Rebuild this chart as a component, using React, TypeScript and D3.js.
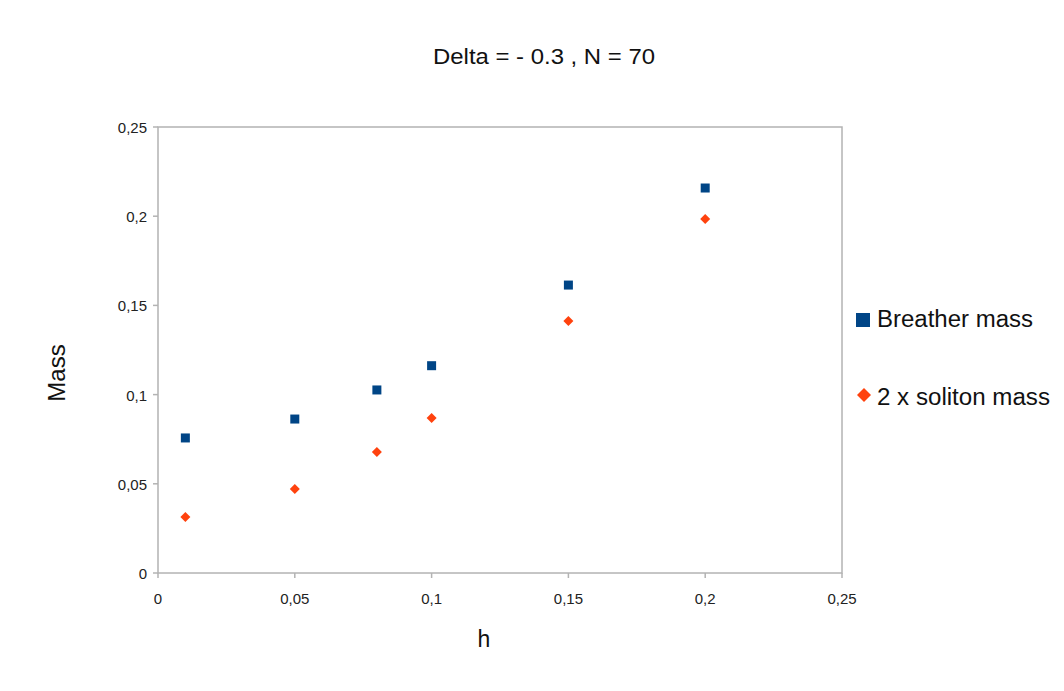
import React from "react";
import * as d3 from "d3";

const hValues = [0.01, 0.05, 0.08, 0.1, 0.15, 0.2];
const breatherMass = [0.0757, 0.0863, 0.1026, 0.1162, 0.1614, 0.2158];
const solitonMass2x = [0.0314, 0.0471, 0.0678, 0.0869, 0.1413, 0.1984];
const xTicks = [0, 0.05, 0.1, 0.15, 0.2, 0.25];
const yTicks = [0, 0.05, 0.1, 0.15, 0.2, 0.25];
const seriesNames = ["Breather mass", "2 x soliton mass"];

const W = 1064, H = 691;
const left = 158, right = 842, top = 127, bottom = 573;
const BLUE = "#004586", ORANGE = "#ff420e";
const fmt = (v: number) => (v === 0 ? "0" : String(+v.toFixed(2)).replace(".", ","));
const font = "'Liberation Sans', Arial, sans-serif";

export default function App() {
  const x = d3.scaleLinear().domain([0, 0.25]).range([left, right]);
  const y = d3.scaleLinear().domain([0, 0.25]).range([bottom, top]);
  const diamond = (cx: number, cy: number, r: number) =>
    `M${cx},${cy - r}L${cx + r},${cy}L${cx},${cy + r}L${cx - r},${cy}Z`;
  return (
    <svg width={W} height={H} style={{ position: "absolute", left: 0, top: 0, background: "#fff" }} fontFamily={font}>
      <rect x={0} y={0} width={W} height={H} fill="#fff" />
      <text x={433} y={64} fontSize={22} fill="#111" textLength={222} lengthAdjust="spacingAndGlyphs">Delta = - 0.3 , N = 70</text>
      <rect x={left} y={top} width={right - left} height={bottom - top} fill="none" stroke="#b3b3b3" strokeWidth={1.5} />
      {yTicks.map((t) => (
        <g key={"y" + t}>
          <line x1={left - 5} x2={left} y1={y(t)} y2={y(t)} stroke="#b3b3b3" strokeWidth={1.5} />
          <text x={left - 11} y={y(t) + 6} textAnchor="end" fontSize={15} fill="#222">{fmt(t)}</text>
        </g>
      ))}
      {xTicks.map((t) => (
        <g key={"x" + t}>
          <line x1={x(t)} x2={x(t)} y1={bottom} y2={bottom + 5} stroke="#b3b3b3" strokeWidth={1.5} />
          <text x={x(t)} y={bottom + 31} textAnchor="middle" fontSize={15} fill="#222">{fmt(t)}</text>
        </g>
      ))}
      <text x={484} y={647} textAnchor="middle" fontSize={23} fill="#111">h</text>
      <text transform={`translate(65,373) rotate(-90)`} textAnchor="middle" fontSize={24} fill="#111">Mass</text>
      {hValues.map((h, i) => (
        <rect key={"b" + i} x={x(h) - 4.5} y={y(breatherMass[i]) - 4.5} width={9} height={9} fill={BLUE} />
      ))}
      {hValues.map((h, i) => (
        <path key={"s" + i} d={diamond(x(h), y(solitonMass2x[i]), 5)} fill={ORANGE} />
      ))}
      <rect x={856} y={313} width={14} height={14} fill={BLUE} />
      <text x={877} y={327} fontSize={23} fill="#111" textLength={156} lengthAdjust="spacingAndGlyphs">{seriesNames[0]}</text>
      <path d={diamond(864, 395, 7)} fill={ORANGE} />
      <text x={877} y={405} fontSize={23} fill="#111" textLength={173} lengthAdjust="spacingAndGlyphs">{seriesNames[1]}</text>
    </svg>
  );
}
